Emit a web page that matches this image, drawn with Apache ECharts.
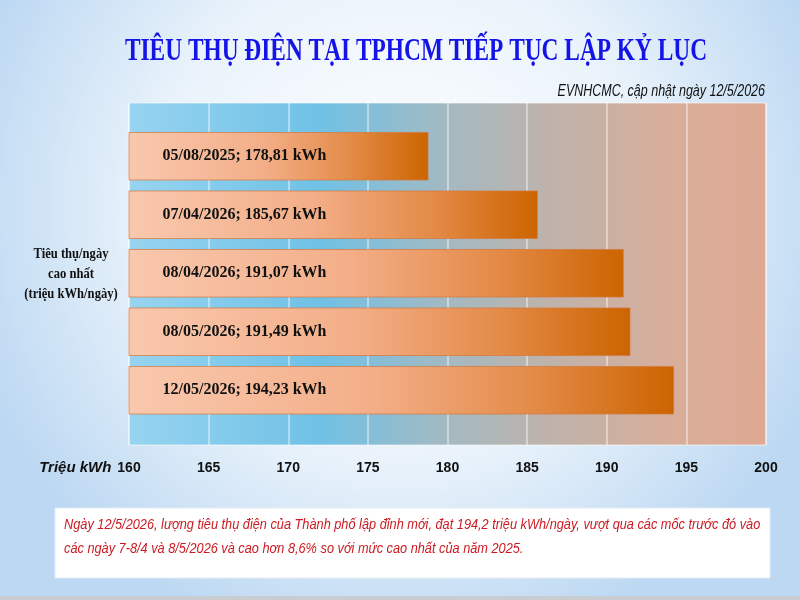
<!DOCTYPE html>
<html>
<head>
<meta charset="utf-8">
<script src="https://cdn.jsdelivr.net/npm/echarts@6/dist/echarts.min.js"></script>
<style>html,body{margin:0;padding:0;}#c{width:800px;height:600px;}</style>
</head>
<body>
<div id="c"></div>
<script>
const categories = ['05/08/2025', '07/04/2026', '08/04/2026', '08/05/2026', '12/05/2026'];
const values = [178.81, 185.67, 191.07, 191.49, 194.23];
const xTicks = { min: 160, max: 200, interval: 5 };
const titleText = 'TIÊU THỤ ĐIỆN TẠI TPHCM TIẾP TỤC LẬP KỶ LỤC';
const subtitleText = 'EVNHCMC, cập nhật ngày 12/5/2026';
const yAxisTitle = 'Tiêu thụ/ngày\ncao nhất\n(triệu kWh/ngày)';
const xAxisTitle = 'Triệu kWh';
const noteText = 'Ngày 12/5/2026, lượng tiêu thụ điện của Thành phố lập đỉnh mới, đạt 194,2 triệu kWh/ngày, vượt qua các mốc trước đó vào\ncác ngày 7-8/4 và 8/5/2026 và cao hơn 8,6% so với mức cao nhất của năm 2025.';

const sans = "'Liberation Sans', Arial, sans-serif";
const serif = "'Liberation Serif', 'Times New Roman', serif";

const chart = echarts.init(document.getElementById('c'));
chart.setOption({
  backgroundColor: {
    type: 'radial', x: 0.5, y: 0.35, r: 0.75,
    colorStops: [{ offset: 0, color: '#ffffff' }, { offset: 0.55, color: '#eaf3fb' }, { offset: 1, color: '#bcd8f2' }]
  },
  grid: [
    {
      left: 129, right: 34, top: 103, bottom: 155,
      show: true,
      borderColor: 'rgba(255,255,255,0.6)', borderWidth: 1,
      backgroundColor: {
        type: 'linear', x: 0, y: 0, x2: 1, y2: 0,
        colorStops: [
          { offset: 0, color: '#97d4f0' },
          { offset: 0.3, color: '#70c1e6' },
          { offset: 0.5, color: '#a4b9c2' },
          { offset: 0.65, color: '#bdb3ac' },
          { offset: 0.85, color: '#d8ae9a' },
          { offset: 1, color: '#dfa893' }
        ]
      }
    },
    { left: 129, right: 34, top: 127, height: 292.5 }
  ],
  xAxis: [
    {
      gridIndex: 0, type: 'value', min: xTicks.min, max: xTicks.max, interval: xTicks.interval,
      axisLine: { show: false }, axisTick: { show: false },
      splitLine: { show: true, lineStyle: { color: 'rgba(255,255,255,0.55)', width: 1.5 } },
      axisLabel: { color: '#111', fontSize: 14, fontWeight: 'bold', fontFamily: sans, margin: 16 },
      name: xAxisTitle, nameLocation: 'start', nameGap: 14,
      nameTextStyle: { color: '#111', fontSize: 15, fontStyle: 'italic', fontWeight: 'bold', fontFamily: sans, verticalAlign: 'top', padding: [15, 0, 0, 0] }
    },
    {
      gridIndex: 1, type: 'value', min: xTicks.min, max: xTicks.max, interval: xTicks.interval,
      show: false, splitLine: { show: false }
    }
  ],
  yAxis: [
    { gridIndex: 0, type: 'category', data: categories, inverse: true, show: false },
    {
      gridIndex: 1, type: 'category', data: categories, inverse: true,
      axisLine: { show: false }, axisTick: { show: false }, axisLabel: { show: false }
    }
  ],
  series: [{
    type: 'bar', xAxisIndex: 1, yAxisIndex: 1, data: values, barWidth: '83%',
    itemStyle: {
      borderColor: 'rgba(214,120,60,0.7)', borderWidth: 1,
      color: {
        type: 'linear', x: 0, y: 0, x2: 1, y2: 0,
        colorStops: [
          { offset: 0, color: '#f9c8ae' },
          { offset: 0.45, color: '#f3ae88' },
          { offset: 0.75, color: '#e38a46' },
          { offset: 1, color: '#cc6400' }
        ]
      }
    },
    label: {
      show: true, position: [34, '50%'], verticalAlign: 'middle',
      color: '#111', fontFamily: serif, fontWeight: 'bold', fontSize: 16,
      formatter: p => categories[p.dataIndex] + '; ' + String(p.value.toFixed(2)).replace('.', ',') + ' kWh'
    }
  }],
  graphic: [
    { type: 'text', x: 416, y: 52, scaleX: 0.73, style: { text: titleText, textAlign: 'center', textVerticalAlign: 'middle', fill: '#1414e6', font: 'bold 32px ' + serif } },
    { type: 'text', x: 765, y: 92, scaleX: 0.78, style: { text: subtitleText, textAlign: 'right', textVerticalAlign: 'middle', fill: '#111', font: 'italic 16px ' + sans } },
    { type: 'text', x: 71, y: 274, scaleX: 0.9, style: { text: yAxisTitle, textAlign: 'center', textVerticalAlign: 'middle', fill: '#111', font: 'bold 14px ' + serif, lineHeight: 20 } },
    { type: 'rect', shape: { x: 55, y: 508, width: 715, height: 70 }, style: { fill: '#ffffff', stroke: '#e4ecf4', lineWidth: 1 } },
    { type: 'text', x: 64, y: 537, scaleX: 0.85, style: { text: noteText, textAlign: 'left', textVerticalAlign: 'middle', fill: '#cc1a22', font: 'italic 15px ' + sans, lineHeight: 24 } },
    { type: 'rect', shape: { x: 0, y: 596, width: 800, height: 4 }, style: { fill: '#c9cdd2' } }
  ]
});
</script>
</body>
</html>
